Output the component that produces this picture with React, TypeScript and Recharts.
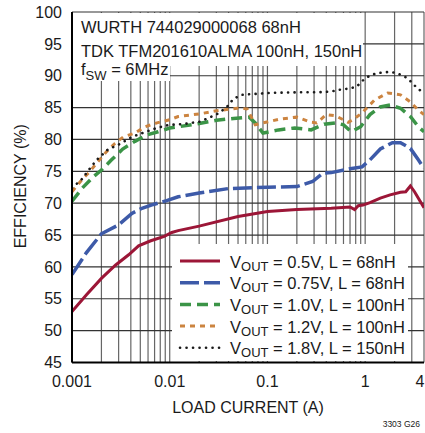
import { LineChart, Line, XAxis, YAxis, CartesianGrid, Legend } from "recharts";

const FONT = "'Liberation Sans', Arial, sans-serif";
const INK = "#1a1a1a";

// log grid positions, labelled x ticks, y ticks
const X_GRID = [
  0.001, 0.002, 0.003, 0.004, 0.005, 0.006, 0.007, 0.008, 0.009,
  0.01, 0.02, 0.03, 0.04, 0.05, 0.06, 0.07, 0.08, 0.09,
  0.1, 0.2, 0.3, 0.4, 0.5, 0.6, 0.7, 0.8, 0.9,
  1, 2, 3, 4,
];
const X_LABELS = [0.001, 0.01, 0.1, 1, 4];
const Y_TICKS = [45, 50, 55, 60, 65, 70, 75, 80, 85, 90, 95, 100];

// VOUT = 0.5V, L = 68nH
const I_050 = [0.001, 0.0014, 0.002, 0.0028, 0.0038, 0.0048, 0.0064, 0.0088, 0.0105, 0.0122, 0.02, 0.05, 0.1, 0.2, 0.45, 0.7, 0.78, 0.85, 0.95, 1.12, 1.43, 1.8, 2.3, 2.6, 2.9, 3.2, 4];
const EFF_050 = [53, 55.6, 58.2, 60.3, 61.9, 63.3, 64.1, 64.8, 65.4, 65.7, 66.4, 67.9, 68.7, 69.0, 69.2, 69.4, 69.0, 69.6, 69.7, 70.1, 70.8, 71.3, 71.7, 71.8, 72.7, 71.8, 69.3];

// VOUT = 0.75V, L = 68nH
const I_075 = [0.001, 0.0014, 0.002, 0.003, 0.0041, 0.0052, 0.0068, 0.0093, 0.0122, 0.02, 0.04, 0.1, 0.2, 0.29, 0.37, 0.45, 0.7, 0.93, 1.12, 1.43, 1.9, 2.3, 2.9, 3.5, 4];
const EFF_075 = [58.8, 62.2, 65.2, 66.6, 68.4, 69.2, 69.8, 70.4, 71.0, 71.6, 72.3, 72.5, 72.6, 73.4, 74.7, 74.8, 75.4, 75.7, 76.8, 78.5, 79.5, 79.5, 78.6, 76.8, 75.5];

// VOUT = 1.0V, L = 100nH
const I_100 = [0.001, 0.00128, 0.00167, 0.002, 0.00254, 0.0033, 0.0044, 0.0058, 0.0076, 0.01, 0.0123, 0.02, 0.03, 0.045, 0.065, 0.075, 0.09, 0.13, 0.19, 0.28, 0.38, 0.5, 0.6, 0.72, 0.9, 1.12, 1.43, 1.8, 2.3, 2.9, 3.5, 4];
const EFF_100 = [70.3, 72.4, 74.2, 75.2, 76.8, 78.5, 79.7, 80.7, 81.2, 81.8, 82.0, 82.5, 83.0, 83.3, 83.5, 82.6, 81.0, 81.5, 81.8, 81.5, 82.4, 82.6, 82.3, 81.2, 82.0, 83.9, 85.1, 85.4, 84.9, 83.6, 82.0, 81.2];

// VOUT = 1.2V, L = 100nH
const I_120 = [0.001, 0.00125, 0.00153, 0.00179, 0.00226, 0.00276, 0.00335, 0.0044, 0.0056, 0.0074, 0.01, 0.0122, 0.02, 0.03, 0.049, 0.062, 0.075, 0.09, 0.135, 0.2, 0.28, 0.32, 0.4, 0.5, 0.67, 0.75, 0.92, 1.25, 1.7, 2.3, 2.9, 3.5, 4];
const EFF_120 = [71.8, 73.6, 75.0, 76.3, 78.1, 79.4, 80.4, 81.0, 82.0, 82.6, 83.1, 83.6, 84.0, 84.5, 84.9, 84.8, 82.3, 82.6, 83.2, 83.5, 82.7, 82.6, 83.9, 83.7, 82.7, 83.1, 84.1, 86.2, 87.3, 87.0, 85.9, 84.6, 83.9];

// VOUT = 1.8V, L = 150nH
const I_180 = [0.001, 0.00125, 0.0015, 0.00179, 0.00232, 0.0031, 0.0041, 0.00546, 0.00736, 0.0099, 0.0137, 0.0204, 0.03, 0.038, 0.045, 0.055, 0.066, 0.106, 0.2, 0.32, 0.44, 0.55, 0.7, 0.82, 0.955, 1.11, 1.31, 1.78, 2.14, 2.72, 3.43, 4];
const EFF_180 = [72.4, 73.7, 75.3, 76.8, 78.4, 79.3, 80.4, 81.1, 81.8, 82.3, 82.4, 82.8, 83.9, 85.0, 86.4, 87.0, 87.1, 87.3, 87.4, 87.4, 87.5, 87.8, 88.0, 88.3, 89.3, 90.0, 90.4, 90.6, 90.4, 89.6, 88.0, 87.3];

const toPoints = (xs: number[], ys: number[]) => xs.map((x, i) => ({ x, y: ys[i] }));

const SERIES = [
  { key: "v050", vout: "0.5V", ind: "68nH", color: "#9c1637", width: 3, dash: undefined, cap: "butt", data: toPoints(I_050, EFF_050) },
  { key: "v075", vout: "0.75V", ind: "68nH", color: "#3d5aa8", width: 3.5, dash: "19 5", cap: "butt", data: toPoints(I_075, EFF_075) },
  { key: "v100", vout: "1.0V", ind: "100nH", color: "#3b9447", width: 3.5, dash: "11 6", cap: "butt", data: toPoints(I_100, EFF_100) },
  { key: "v120", vout: "1.2V", ind: "100nH", color: "#cc8440", width: 3, dash: "5 5", cap: "butt", data: toPoints(I_120, EFF_120) },
  { key: "v180", vout: "1.8V", ind: "150nH", color: "#1a1a1a", width: 2.6, dash: "0.1 6.4", cap: "round", data: toPoints(I_180, EFF_180) },
];

const XTick = (props: any) => {
  const { x, y, payload } = props;
  if (!X_LABELS.includes(payload.value)) return <g />;
  // last label sits on the right border; keep it inside the frame
  const last = payload.value === X_LABELS[X_LABELS.length - 1];
  return (
    <text
      x={last ? 424.5 : x}
      y={y}
      dy={24}
      textAnchor={last ? "end" : "middle"}
      fill={INK}
      fontSize={16}
      fontFamily={FONT}
    >
      {String(payload.value)}
    </text>
  );
};

const LegendBox = () => (
  <svg width={236} height={117} style={{ display: "block" }}>
    <rect x={0} y={0} width={236} height={117} fill="#fff" />
    {SERIES.map((s, i) => {
      const base = 23.5 + i * 21.7;
      const ly = base - 6.5;
      return (
        <g key={s.key}>
          <line
            x1={8}
            x2={48}
            y1={ly}
            y2={ly}
            stroke={s.color}
            strokeWidth={s.width}
            strokeDasharray={s.dash}
            strokeLinecap={s.cap as any}
          />
          <text x={58} y={base} fill={INK} fontSize={16.5} fontFamily={FONT}>
            V
            <tspan fontSize={13} dy={3}>OUT</tspan>
            <tspan dy={-3}>{` = ${s.vout}, L = ${s.ind}`}</tspan>
          </text>
        </g>
      );
    })}
  </svg>
);

export default function App() {
  return (
    <div style={{ position: "absolute", left: 0, top: 0, width: 425, height: 433, background: "#fff" }}>
      <LineChart width={425} height={433} margin={{ top: 12, right: 1, bottom: 0, left: 0 }}>
        <CartesianGrid horizontal={false} stroke="#666" strokeWidth={1.2} />
        <CartesianGrid vertical={false} stroke="#333" strokeWidth={1.2} />
        <XAxis
          dataKey="x"
          type="number"
          scale="log"
          domain={[0.001, 4]}
          allowDataOverflow
          ticks={X_GRID}
          interval={0}
          tick={XTick}
          tickLine={false}
          tickSize={0}
          tickMargin={0}
          height={70.5}
          axisLine={{ stroke: "#000", strokeWidth: 2 }}
          label={{
            value: "LOAD CURRENT (A)",
            position: "insideBottom",
            offset: 20,
            fill: INK,
            fontSize: 16,
            fontFamily: FONT,
          }}
        />
        <YAxis
          type="number"
          domain={[45, 100]}
          ticks={Y_TICKS}
          interval={0}
          width={72}
          tickLine={false}
          tickSize={0}
          tickMargin={10}
          tick={{ fill: INK, fontSize: 16, fontFamily: FONT }}
          axisLine={{ stroke: "#000", strokeWidth: 2 }}
          label={{
            content: (p: any) => {
              const vb = p.viewBox || { y: 12, height: 350 };
              const cy = vb.y + vb.height / 2 - 1;
              return (
                <text
                  x={26}
                  y={cy}
                  transform={`rotate(-90, 26, ${cy})`}
                  textAnchor="middle"
                  fill={INK}
                  fontSize={16}
                  fontFamily={FONT}
                >
                  EFFICIENCY (%)
                </text>
              );
            },
          }}
        />
        <XAxis xAxisId="top" orientation="top" type="number" domain={[0, 1]} height={0} tick={false} tickLine={false} axisLine={{ stroke: "#000", strokeWidth: 2 }} />
        <YAxis yAxisId="right" orientation="right" type="number" domain={[0, 1]} width={0} tick={false} tickLine={false} axisLine={{ stroke: "#000", strokeWidth: 2 }} />
        {SERIES.map((s) => (
          <Line
            key={s.key}
            data={s.data}
            dataKey="y"
            name={s.key}
            type="linear"
            stroke={s.color}
            strokeWidth={s.width}
            strokeDasharray={s.dash}
            strokeLinecap={s.cap as any}
            dot={false}
            activeDot={false}
            isAnimationActive={false}
          />
        ))}
        <Legend
          layout="horizontal"
          verticalAlign="middle"
          align="center"
          content={() => <LegendBox />}
          wrapperStyle={{ left: 172, top: 244, width: 236, height: 117 }}
        />
      </LineChart>
      <svg
        width={425}
        height={433}
        style={{ position: "absolute", left: 0, top: 0, pointerEvents: "none" }}
      >
        <path d="M73 13 H363 V66 H170 V81 H73 Z" fill="#fff" />
        <g fill={INK} fontFamily={FONT} fontSize={16.5}>
          <text x={81} y={33.3}>WURTH 744029000068 68nH</text>
          <text x={81} y={56.7}>TDK TFM201610ALMA 100nH, 150nH</text>
          <text x={81} y={75}>
            f<tspan fontSize={13} dy={5}>SW</tspan>
            <tspan dy={-5}> = 6MHz</tspan>
          </text>
        </g>
        <text x={420} y={427} textAnchor="end" fill={INK} fontFamily={FONT} fontSize={8.5}>
          3303 G26
        </text>
      </svg>
    </div>
  );
}
